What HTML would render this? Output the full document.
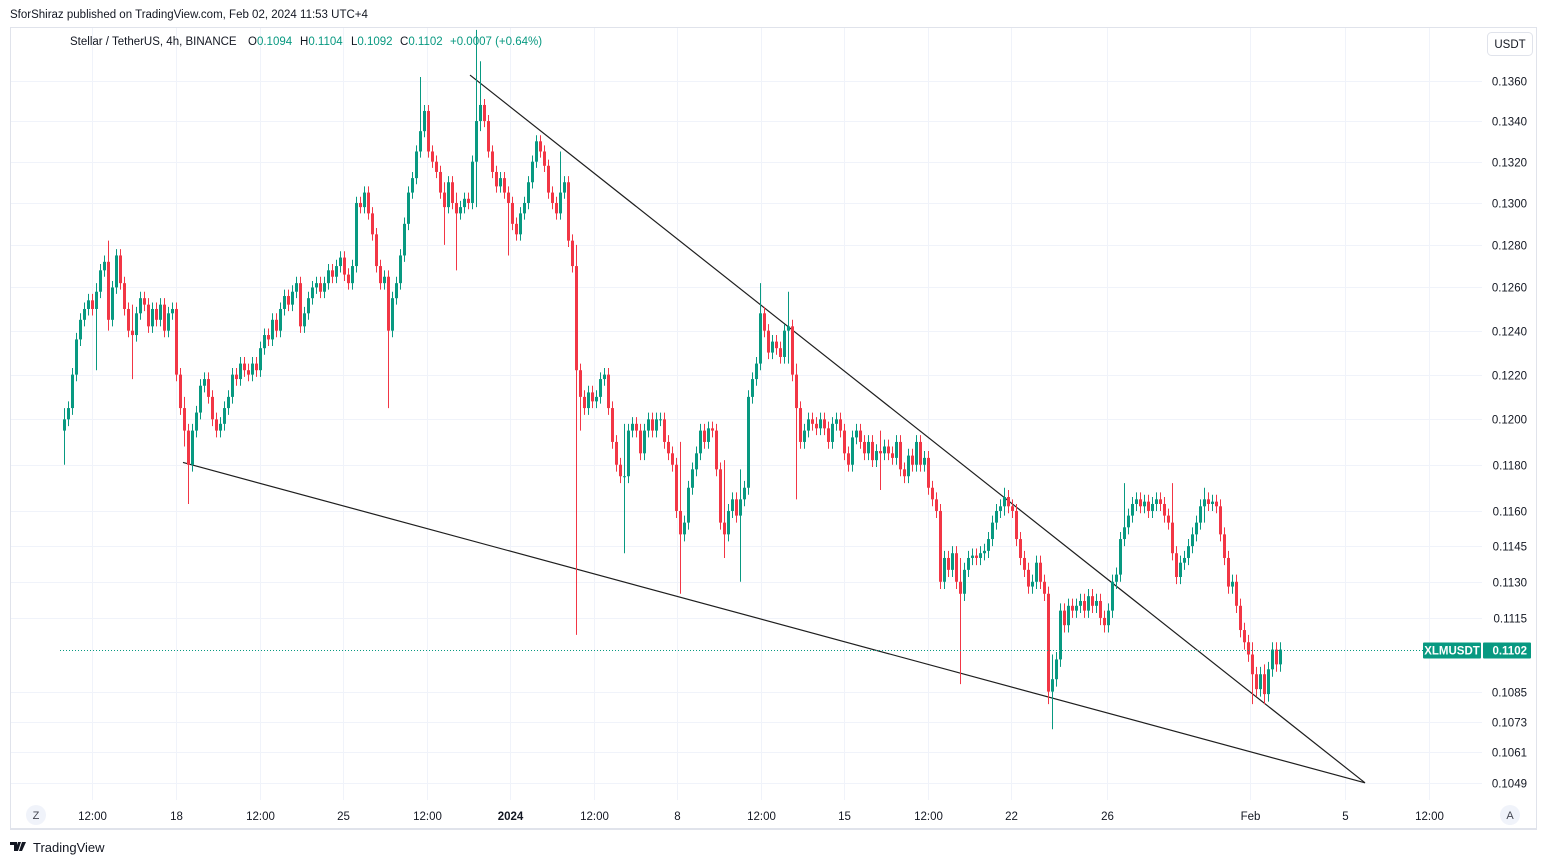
<!DOCTYPE html>
<html><head><meta charset="utf-8">
<style>
html,body{margin:0;padding:0;background:#fff;width:1547px;height:865px;overflow:hidden;font-family:"Liberation Sans",sans-serif;color:#131722}
</style></head>
<body>
<svg id="chart" width="1547" height="865" viewBox="0 0 1547 865" xmlns="http://www.w3.org/2000/svg" font-family="Liberation Sans, sans-serif">
  <text x="10" y="18" font-size="11.5" fill="#131722">SforShiraz published on TradingView.com, Feb 02, 2024 11:53 UTC+4</text>
  <rect x="10.5" y="27.5" width="1526" height="801" fill="#fff" stroke="#e0e3eb" stroke-width="1"/>
  <line x1="10" y1="829" x2="1537" y2="829" stroke="#e0e3eb" stroke-width="2"/>
  <g id="grid"></g>
  <g id="yaxis"></g>
  <g id="xaxis"></g>
  <g id="lines"></g>
  <g id="candles"></g>
  <g id="lastprice"></g>
  <text y="45" font-size="11.5"><tspan x="70" fill="#131722">Stellar / TetherUS, 4h, BINANCE</tspan><tspan x="248" fill="#131722">O</tspan><tspan fill="#089981">0.1094</tspan><tspan x="300" fill="#131722">H</tspan><tspan fill="#089981">0.1104</tspan><tspan x="351" fill="#131722">L</tspan><tspan fill="#089981">0.1092</tspan><tspan x="400" fill="#131722">C</tspan><tspan fill="#089981">0.1102</tspan><tspan x="450" fill="#089981">+0.0007 (+0.64%)</tspan></text>
  <g>
    <rect x="1487.5" y="32.5" width="45" height="23" rx="4" fill="#fff" stroke="#e0e3eb"/>
    <text x="1510" y="48" font-size="11.5" text-anchor="middle" fill="#131722">USDT</text>
  </g>
  <g>
    <circle cx="36" cy="815" r="10" fill="#f0f3fa"/>
    <text x="36" y="819" font-size="11" text-anchor="middle" fill="#434651">Z</text>
  </g>
  <g>
    <circle cx="1510" cy="815" r="10" fill="#f0f3fa"/>
    <text x="1510" y="819" font-size="11" text-anchor="middle" fill="#434651">A</text>
  </g>
  <g>
    <path d="M10 842h7v9h-3v-6h-4z M18 842h3l-3 9h-3z M22 842h4l-4 9h-3z" fill="#131722"/>
    <text x="33" y="852" font-size="13" fill="#131722">TradingView</text>
  </g>
</svg>
<script>
const NS='http://www.w3.org/2000/svg';
const priceTicks=[0.1360,0.1340,0.1320,0.1300,0.1280,0.1260,0.1240,0.1220,0.1200,0.1180,0.1160,0.1145,0.1130,0.1115,0.1085,0.1073,0.1061,0.1049];
const timeLabels=['12:00','18','12:00','25','12:00','2024','12:00','8','12:00','15','12:00','22','26','Feb','5','12:00'];
const timeLabelDays=[-3.5,0,3.5,7,10.5,14,17.5,21,24.5,28,31.5,35,39,45,49,52.5];
const closes=[.1200,.1205,.1220,.1236,.1245,.1250,.1254,.1250,.1258,.1268,.1272,.1245,.1260,.1275,.1262,.1250,.1240,.1238,.1248,.1255,
.1252,.1242,.1250,.1245,.1252,.1240,.1248,.1250,.1220,.1205,.1195,.1180,.1195,.1203,.1215,.1218,.1210,.1200,.1195,.1198,
.1205,.1210,.1220,.1218,.1225,.1222,.1220,.1225,.1222,.1232,.1238,.1236,.1245,.1240,.1250,.1256,.1252,.1258,.1262,.1242,
.1248,.1255,.1260,.1262,.1258,.1262,.1268,.1265,.1270,.1274,.1266,.1262,.1270,.1300,.1298,.1305,.1295,.1285,.1270,.1262,
.1265,.1240,.1255,.1262,.1275,.1290,.1305,.1312,.1325,.1335,.1345,.1325,.1320,.1315,.1305,.1298,.1310,.1300,.1295,.1298,
.1302,.1300,.1320,.1340,.1348,.1340,.1325,.1315,.1308,.1312,.1305,.1300,.1290,.1285,.1295,.1300,.1310,.1320,.1330,.1325,
.1318,.1305,.1300,.1295,.1305,.1310,.1282,.1270,.1222,.1210,.1205,.1212,.1208,.1210,.1218,.1220,.1205,.1190,.1180,.1175,
.1175,.1195,.1198,.1195,.1185,.1195,.1200,.1195,.1200,.1200,.1190,.1185,.1180,.1160,.1150,.1155,.1170,.1178,.1185,.1195,
.1190,.1196,.1195,.1178,.1155,.1150,.1160,.1165,.1158,.1165,.1170,.1210,.1218,.1225,.1248,.1240,.1230,.1235,.1232,.1228,
.1240,.1242,.1220,.1205,.1190,.1195,.1200,.1198,.1196,.1200,.1196,.1190,.1198,.1200,.1195,.1185,.1180,.1192,.1195,.1190,
.1185,.1190,.1182,.1186,.1185,.1188,.1185,.1183,.1190,.1178,.1175,.1184,.1180,.1190,.1180,.1183,.1170,.1165,.1160,.1130,
.1140,.1135,.1142,.1130,.1125,.1135,.1140,.1141,.1140,.1142,.1143,.1148,.1155,.1160,.1162,.1166,.1162,.1160,.1148,.1140,
.1135,.1128,.1130,.1138,.1130,.1125,.1085,.1090,.1098,.1118,.1112,.1120,.1118,.1120,.1122,.1118,.1124,.1120,.1122,.1115,
.1112,.1118,.1130,.1133,.1148,.1153,.1158,.1163,.1165,.1162,.1164,.1160,.1163,.1165,.1163,.1158,.1155,.1142,.1132,.1138,
.1140,.1145,.1150,.1155,.1162,.1165,.1163,.1164,.1162,.1150,.1140,.1128,.1130,.1120,.1110,.1105,.1100,.1092,.1086,.1092,
.1084,.1094,.1102,.1096,.1102];
const firstOpen=0.1195;
const wickIdx=[0,8,11,17,30,31,81,89,95,98,103,104,111,124,128,129,140,154,165,169,174,181,183,204,224,235,246,247,265,277,285,297,300];
const wickHigh=[.1205,.1262,.1282,.1252,.1210,.1198,.1268,.1362,.1310,.1305,.1386,.1370,.1305,.1325,.1280,.1225,.1198,.1190,.1182,.1178,.1262,.1258,.1225,.1195,.1140,.1170,.1128,.1100,.1172,.1172,.1170,.1105,.1096];
const wickLow=[.1180,.1222,.1240,.1218,.1188,.1163,.1205,.1330,.1280,.1268,.1298,.1335,.1275,.1300,.1108,.1195,.1142,.1125,.1140,.1130,.1235,.1225,.1165,.1169,.1088,.1158,.1080,.1070,.1150,.1150,.1155,.1080,.1080];
const defaultWick=0.0003;
const lastPrice=0.1102;
const upperLinePts=[[470,0.1363],[1365,0.1049]]; // [x anchor, price]
const lowerLinePts=[[183,0.1181],[1365,0.1049]];

function yOf(p){return 81+2703*Math.log(0.1360/p);}
function xOfDay(d){return 176+d*23.86;}  // day 0 = Dec 18 00:00
function xOfIdx(i){return 64+4*i;}

const grid=document.getElementById('grid');
const ya=document.getElementById('yaxis');
const xa=document.getElementById('xaxis');
priceTicks.forEach(p=>{
  const y=Math.round(yOf(p))+0.5;
  const l=document.createElementNS(NS,'line');
  l.setAttribute('x1',11);l.setAttribute('x2',1482);l.setAttribute('y1',y);l.setAttribute('y2',y);
  l.setAttribute('stroke','#f0f3fa');
  
  
  grid.appendChild(l);
  const t=document.createElementNS(NS,'text');
  t.setAttribute('x',1527);t.setAttribute('y',y+4);t.setAttribute('font-size','11.5');t.setAttribute('text-anchor','end');t.setAttribute('fill','#131722');
  t.textContent=p.toFixed(4);
  
  
  ya.appendChild(t);
});
timeLabels.forEach((lab,k)=>{
  const x=Math.round(xOfDay(timeLabelDays[k]))+0.5;
  const l=document.createElementNS(NS,'line');
  l.setAttribute('x1',x);l.setAttribute('x2',x);l.setAttribute('y1',28);l.setAttribute('y2',800);
  l.setAttribute('stroke','#f0f3fa');
  
  
  grid.appendChild(l);
  const t=document.createElementNS(NS,'text');
  t.setAttribute('x',x);t.setAttribute('y',820);t.setAttribute('font-size','11.5');t.setAttribute('text-anchor','middle');
  t.setAttribute('fill','#131722');
  if(lab==='2024'){t.setAttribute('font-weight','bold');}
  t.textContent=lab;
  
  
  xa.appendChild(t);
});

const lines=document.getElementById('lines');
[upperLinePts,lowerLinePts].forEach(pts=>{
  const l=document.createElementNS(NS,'line');
  l.setAttribute('x1',pts[0][0]);l.setAttribute('y1',yOf(pts[0][1]));l.setAttribute('x2',pts[1][0]);l.setAttribute('y2',yOf(pts[1][1]));
  l.setAttribute('stroke','#1e1e1e');l.setAttribute('stroke-width','1.2');
  
  
  lines.appendChild(l);
});

const cg=document.getElementById('candles');
closes.forEach((c,i)=>{
  const o=i===0?firstOpen:closes[i-1];
  let hi=Math.max(o,c)+defaultWick, lo=Math.min(o,c)-defaultWick;
  const k=wickIdx.indexOf(i);
  if(k>=0){hi=Math.max(hi,wickHigh[k]);lo=Math.min(lo,wickLow[k]);}
  const up=c>=o, col=up?'#089981':'#f23645';
  const x=xOfIdx(i);
  const w=document.createElementNS(NS,'line');
  w.setAttribute('x1',x+0.5);w.setAttribute('x2',x+0.5);w.setAttribute('y1',yOf(hi));w.setAttribute('y2',yOf(lo));
  w.setAttribute('stroke',col);w.setAttribute('stroke-width','1');
  
  
  cg.appendChild(w);
  const yt=yOf(Math.max(o,c)), yb=yOf(Math.min(o,c));
  const r=document.createElementNS(NS,'rect');
  r.setAttribute('x',x-1);r.setAttribute('width',3);r.setAttribute('y',yt);r.setAttribute('height',Math.max(1,yb-yt));
  r.setAttribute('fill',col);
  
  
  cg.appendChild(r);
});

const lp=document.getElementById('lastprice');
const ly=Math.round(yOf(lastPrice))+0.5;
const dl=document.createElementNS(NS,'line');
dl.setAttribute('x1',60);dl.setAttribute('x2',1482);dl.setAttribute('y1',ly);dl.setAttribute('y2',ly);
dl.setAttribute('stroke','#089981');dl.setAttribute('stroke-dasharray','1 2');


lp.appendChild(dl);
const r1=document.createElementNS(NS,'rect');
r1.setAttribute('x',1423);r1.setAttribute('y',ly-8);r1.setAttribute('width',58);r1.setAttribute('height',16);r1.setAttribute('fill','#089981');r1.setAttribute('rx',1);


lp.appendChild(r1);
const t1=document.createElementNS(NS,'text');
t1.setAttribute('x',1452);t1.setAttribute('y',ly+4);t1.setAttribute('font-size','11.5');t1.setAttribute('font-weight','bold');t1.setAttribute('fill','#fff');t1.setAttribute('text-anchor','middle');
t1.textContent='XLMUSDT';


lp.appendChild(t1);
const r2=document.createElementNS(NS,'rect');
r2.setAttribute('x',1483);r2.setAttribute('y',ly-8);r2.setAttribute('width',48);r2.setAttribute('height',16);r2.setAttribute('fill','#089981');r2.setAttribute('rx',1);


lp.appendChild(r2);
const t2=document.createElementNS(NS,'text');
t2.setAttribute('x',1527);t2.setAttribute('y',ly+4);t2.setAttribute('font-size','11.5');t2.setAttribute('font-weight','bold');t2.setAttribute('fill','#fff');t2.setAttribute('text-anchor','end');
t2.textContent=lastPrice.toFixed(4);


lp.appendChild(t2);
</script>
</body></html>
